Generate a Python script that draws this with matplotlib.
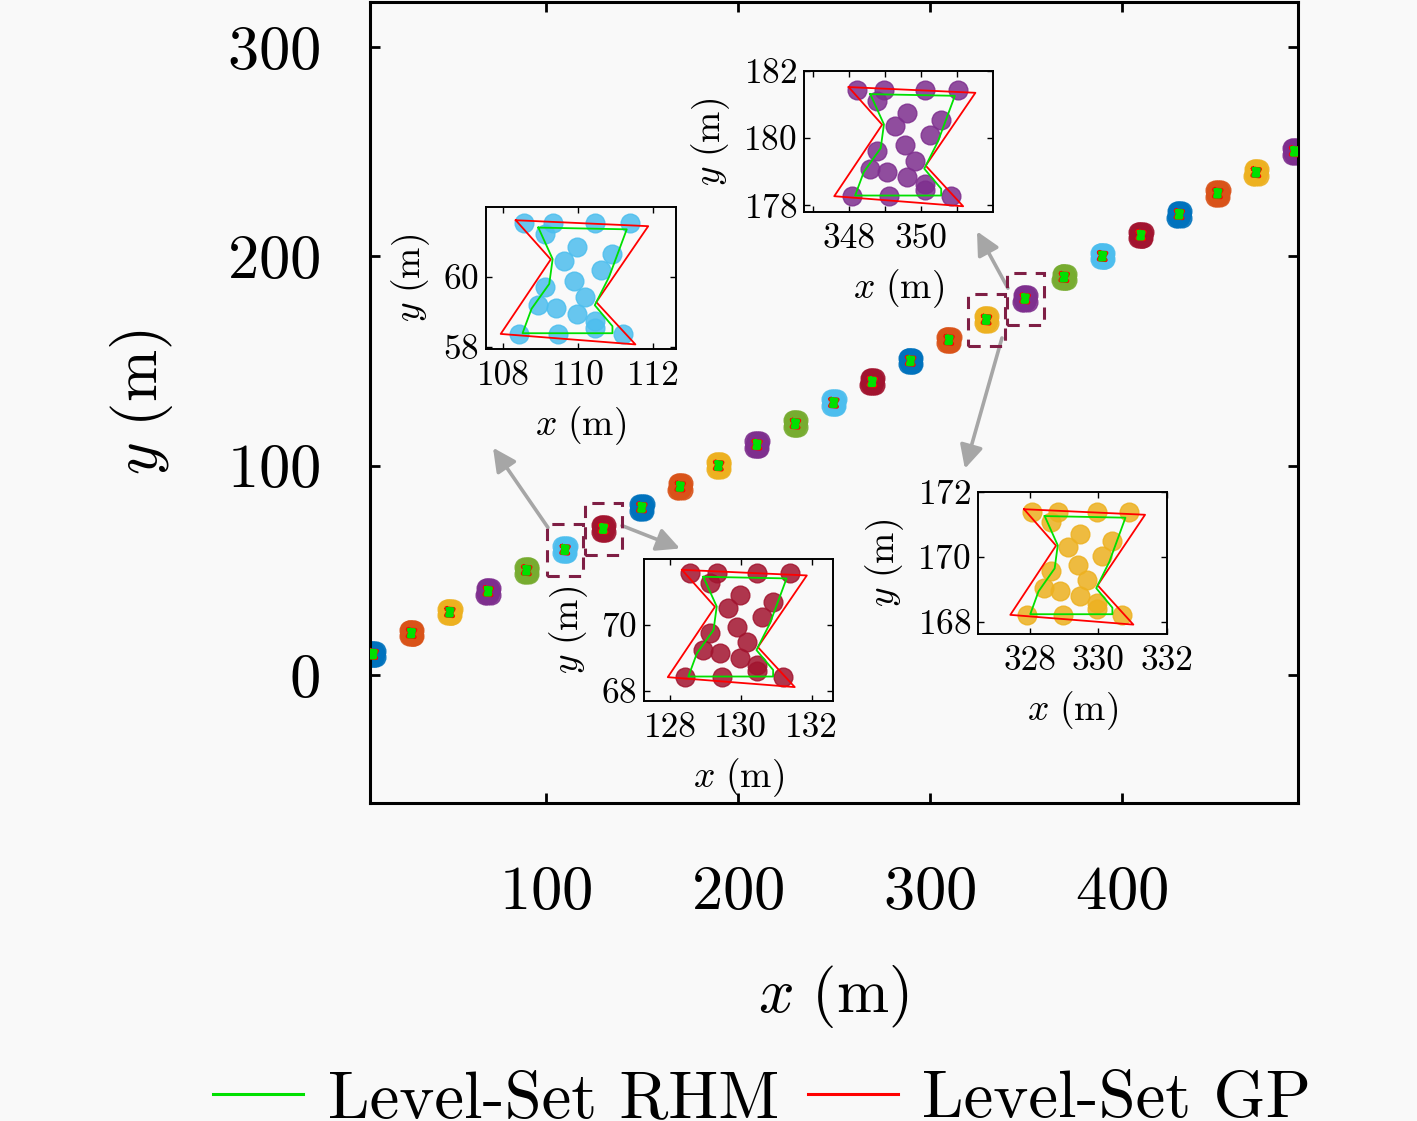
import matplotlib
matplotlib.use("Agg")
import matplotlib.pyplot as plt
from matplotlib.lines import Line2D
from matplotlib.patches import Rectangle
import numpy as np

plt.rcParams['mathtext.fontset'] = 'cm'
plt.rcParams['font.family'] = 'serif'
plt.rcParams['font.serif'] = ['cmr10']
plt.rcParams['axes.formatter.use_mathtext'] = True

# centres of the object at each time step
cx = [10, 30, 50, 70, 90, 110, 130, 150, 170, 190, 210, 230, 250,
      270, 290, 310, 329.5, 349.65, 370, 390, 410, 430, 450, 470, 490]
cy = [10, 20, 30, 40, 50, 59.85, 69.9, 80, 90, 100, 110, 120, 130,
      140, 150, 160, 169.7, 179.75, 190, 200, 210, 220, 230, 240, 250]

# matlab default colour order
farbe = ['#0072BD', '#D95319', '#EDB120', '#7E2F8E', '#77AC30', '#4DBEEE', '#A2142F']

# measurement points of the object (offsets from centre, m)
mx = [-1.44, -0.68, 0.45, 1.38, -0.87, -0.03, -0.37, 0.9, 0.6, -0.1,
      0.17, -0.87, -1.07, -0.6, -0.03, 0.45, -1.58, -0.54, 1.18, 0.45]
my = [1.68, 1.68, 1.68, 1.68, 1.37, 1.0, 0.6, 0.8, 0.34, 0.04,
      -0.42, -0.14, -0.66, -0.75, -0.9, -1.11, -1.48, -1.48, -1.48, -1.3]

# level-set GP shape estimate
gp_x = [-1.66, 1.86, 0.48, 1.52, -2.06, -0.73, -1.66]
gp_y = [1.77, 1.6, -0.57, -1.78, -1.48, 0.65, 1.77]

# level-set RHM shape estimate
rhm_x = [-1.06, 1.29, 0.82, 0.44, 0.91, 0.91, -1.48, -1.24, -0.77, -0.68, -1.06]
rhm_y = [1.56, 1.51, 0.15, -0.66, -1.26, -1.46, -1.46, -0.76, -0.05, 0.66, 1.56]

# zoomed steps (index, position [l,b,w,h], xlim, ylim, xticks, xticklabels, yticks)
zoom = [
    (5, [0.3430, 0.6887, 0.1341, 0.1267], (107.55, 112.6), (57.94, 62.0),
     [108, 110, 112], ['108', '110', '112'], [58, 60]),
    (6, [0.4545, 0.3747, 0.1334, 0.1267], (127.27, 132.6), (67.7, 72.0),
     [128, 130, 132], ['128', '130', '132'], [68, 70]),
    (16, [0.6902, 0.4344, 0.1334, 0.1267], (326.5, 332.0), (167.63, 172.0),
     [328, 330, 332], ['328', '330', '332'], [168, 170, 172]),
    (17, [0.5674, 0.8109, 0.1334, 0.1258], (346.75, 352.0), (177.8, 182.0),
     [347, 348, 349, 350, 351], ['', '348', '', '350', ''], [178, 180, 182]),
]

# arrows (tail -> head) in data coordinates of the main axes
pfeile = [((101.0, 70.5), (72.4, 108.6)),
          ((139.6, 71.4), (169.8, 60.5)),
          ((340.6, 184.8), (324.5, 211.9)),
          ((337.5, 161.0), (318.2, 98.6))]

hg = '#f9f9f9'
fig = plt.figure(figsize=(14.17, 11.21), dpi=100, facecolor=hg)


def objekt(ax, i, ms, lw):
    x0, y0 = cx[i], cy[i]
    c = farbe[i % 7]
    ax.plot(np.array(mx) + x0, np.array(my) + y0, 'o', ms=ms, color=c,
            mec=c, alpha=0.85, zorder=2)
    ax.plot(np.array(gp_x) + x0, np.array(gp_y) + y0, '-', color='red', lw=lw, zorder=3)
    ax.plot(np.array(rhm_x) + x0, np.array(rhm_y) + y0, '-', color='#00e000', lw=lw, zorder=4)


ax = fig.add_axes([0.2611, 0.2837, 0.6549, 0.7145], facecolor=hg)
for i in range(len(cx)):
    objekt(ax, i, 13.5, 3.0)

for (i, *_r) in zoom:
    ax.add_patch(Rectangle((cx[i] - 9.5, cy[i] - 12.5), 19, 25, fill=False,
                           ec='#7f1f45', lw=2.2, ls=(0, (4, 3)), zorder=5))

for (t, h) in pfeile:
    ax.annotate('', xy=h, xytext=t,
                arrowprops=dict(arrowstyle='-|>,head_length=1.4,head_width=0.7',
                                color='#a6a6a6', lw=2.6, shrinkA=0, shrinkB=0))

ax.set_xlim(8.3, 491.7)
ax.set_ylim(-61, 321.4)
ax.set_xticks([100, 200, 300, 400])
ax.set_yticks([0, 100, 200, 300])
ax.tick_params(direction='in', length=7, width=2, labelsize=45, top=True, right=True)
ax.tick_params(axis='y', pad=36)
ax.tick_params(axis='x', pad=45)
for s in ax.spines.values():
    s.set_linewidth(2.2)
ax.set_xlabel(r'$x\ (\mathrm{m})$', fontsize=45)
ax.set_ylabel(r'$y\ (\mathrm{m})$', fontsize=45)
ax.xaxis.set_label_coords(0.499, -0.2)
ax.yaxis.set_label_coords(-0.21, 0.5)

for (i, pos, xl, yl, xt, xtl, yt) in zoom:
    ia = fig.add_axes(pos, facecolor=hg)
    objekt(ia, i, 13.5, 1.3)
    ia.set_xlim(*xl)
    ia.set_ylim(*yl)
    ia.set_xticks(xt)
    ia.set_xticklabels(xtl)
    ia.set_yticks(yt)
    ia.tick_params(direction='in', length=4, width=1, labelsize=25.5, top=True, right=True)
    ia.tick_params(axis='x', pad=8)
    ia.tick_params(axis='y', pad=5)
    for s in ia.spines.values():
        s.set_linewidth(1.4)
    ia.set_xlabel(r'$x\ (\mathrm{m})$', fontsize=27, labelpad=9)
    ia.set_ylabel(r'$y\ (\mathrm{m})$', fontsize=27, labelpad=8)

griffe = [Line2D([], [], color='#00e000', lw=2.2), Line2D([], [], color='red', lw=2.2)]
fig.legend(griffe, ['Level-Set RHM', 'Level-Set GP'], loc='lower center',
           bbox_to_anchor=(0.538, -0.038), ncol=2, frameon=False, fontsize=48,
           handlelength=1.35, handletextpad=0.37, columnspacing=0.42, borderpad=0)

fig.savefig('out.png', dpi=100, facecolor=hg)
